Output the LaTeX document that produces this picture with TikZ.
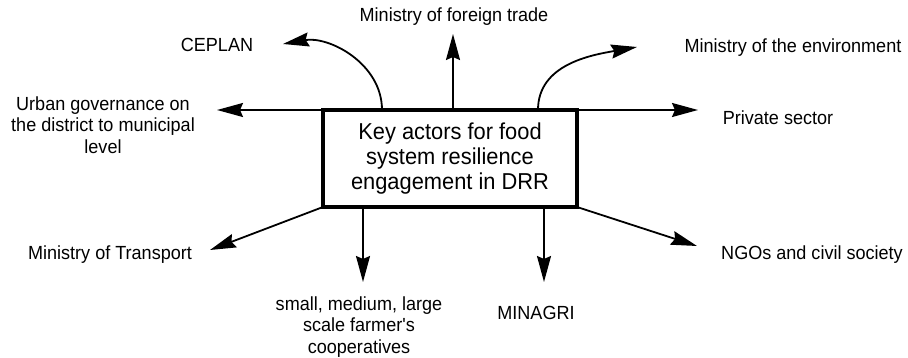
\documentclass[tikz,border=0pt]{standalone}
\usepackage{fontspec}
\setmainfont{Liberation Sans}
\newfontfamily\actorfont[FakeStretch=0.95]{Liberation Sans}
\usetikzlibrary{arrows.meta}
\begin{document}
\begin{tikzpicture}[x=1pt, y=-1pt,
    actor/.style={align=center, inner sep=0pt,
      font=\actorfont\fontsize{19}{21.5}\selectfont},
    keybox/.style={draw, line width=3.5pt, outer sep=0pt, align=center,
      minimum width=254pt, minimum height=97pt,
      font=\actorfont\fontsize{23}{25}\selectfont}]
    \useasboundingbox (0,0) rectangle (908,358);
    \node [keybox] (key) at (450,158.5) {Key actors for food\\system
      resilience\\engagement in DRR};

    \begin{scope}[every node/.style={actor}]
      \node (trade) at (454,17) {Ministry of foreign trade}; \node
      (ceplan) at (217,45) {CEPLAN}; \node (env) at (793,48) {Ministry
        of the environment}; \node (urban) at (103,125) {Urban
        governance on\\the district to municipal\\level}; \node
      (private) at (778,118) {Private sector}; \node (transport) at
      (110,255) {Ministry of Transport}; \node (ngo) at (812,255)
      {NGOs and civil society}; \node (farmer) at (359,327) {small,
        medium, large\\scale farmer\textquotesingle s\\cooperatives};
      \node (minagri) at (536,313) {MINAGRI};
    \end{scope}

    % arrow tips
    \coordinate (ceplantip) at (283,44); \coordinate (tradetip) at
    (453,34); \coordinate (envtip) at (637,47); \coordinate (urbantip)
    at (217,110); \coordinate (privatetip) at (698,110); \coordinate
    (transporttip) at (210,250); \coordinate (farmertip) at (363,282);
    \coordinate (minagritip) at (544,282); \coordinate (ngotip) at
    (697,246);

    \begin{scope}[->, >={Stealth[length=26pt, width=14pt, inset=3pt]},
      line width=1.8pt]
      \draw ([xshift=-68pt]key.north) to [out=90, in=10] (ceplantip);
      \draw ([xshift=3pt]key.north) to (tradetip); \draw
      ([xshift=88pt]key.north) to [out=90, in=190] (envtip); \draw
      (key.north west) to (urbantip); \draw (key.north east) to
      (privatetip); \draw (key.south west) to (transporttip); \draw
      ([xshift=-87pt]key.south) to (farmertip); \draw
      ([xshift=94pt]key.south) to (minagritip); \draw (key.south east)
      to (ngotip);
    \end{scope}
  \end{tikzpicture}
\end{document}
